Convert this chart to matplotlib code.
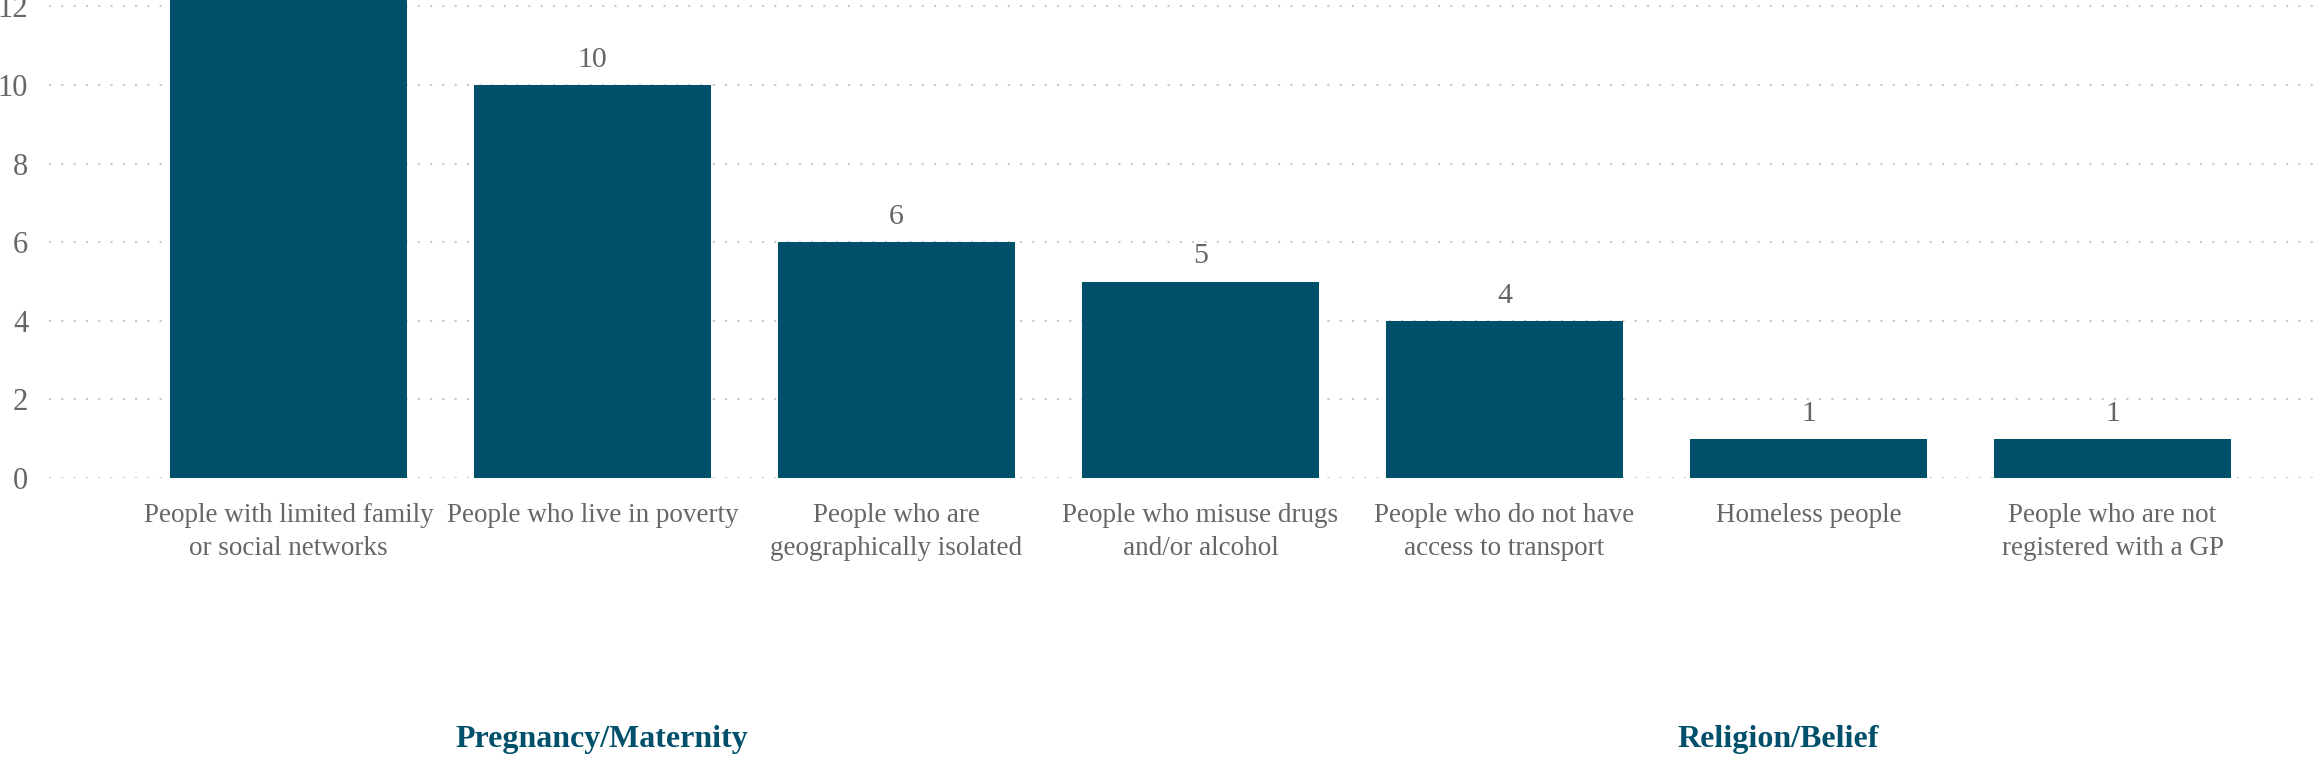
import matplotlib
matplotlib.use("Agg")
import matplotlib.pyplot as plt
import matplotlib.transforms as mtransforms

# data
categories = [
    "People with limited family\nor social networks",
    "People who live in poverty",
    "People who are\ngeographically isolated",
    "People who misuse drugs\nand/or alcohol",
    "People who do not have\naccess to transport",
    "Homeless people",
    "People who are not\nregistered with a GP",
]
values = [14, 10, 6, 5, 4, 1, 1]
yticks = [0, 2, 4, 6, 8, 10, 12]
group_labels = ["Pregnancy/Maternity", "Religion/Belief"]
group_pos = [1.03, 4.9]

bar_col = "#00506B"
txt_col = "#666666"
plt.rcParams['font.family'] = ['Liberation Serif', 'DejaVu Serif']

W, H = 2318, 773
fig = plt.figure(figsize=(W / 100, H / 100), dpi=100)
# axes: y=0 at 478px from top, 39.3 px per unit, x from 49px to right edge
y0 = 478
ppu = 39.3
ymax = 15
ax = fig.add_axes([49 / W, (H - y0) / H, (W - 49) / W, ymax * ppu / H])

x = list(range(len(categories)))
ax.bar(x, values, width=0.78, color=bar_col, zorder=3)
ax.set_xlim(-0.788, 6.676)
ax.set_ylim(0, ymax)

for xi, v in zip(x, values):
    ax.annotate(str(v), (xi, v), xytext=(0, 13), textcoords="offset points",
                ha="center", va="baseline", fontsize=21.5, color=txt_col)

ax.set_yticks(yticks)
ax.set_yticklabels([str(t) for t in yticks])
ax.set_xticks(x)
ax.set_xticklabels(categories, linespacing=1.4)
ax.tick_params(axis="x", length=0, pad=18, labelsize=19.5, labelcolor=txt_col)
ax.tick_params(axis="y", length=0, pad=15, labelsize=22, labelcolor=txt_col)
ax.grid(axis="y", color="#c8c8c8", linestyle=(0, (1, 4.9)), linewidth=1.5, zorder=0)
for s in ax.spines.values():
    s.set_visible(False)

trans = mtransforms.blended_transform_factory(ax.transData, fig.transFigure)
for lab, gx in zip(group_labels, group_pos):
    ax.text(gx, 33 / H, lab, transform=trans, ha="center", va="center",
            fontsize=23, fontweight="bold", color=bar_col)

fig.savefig("out.png", dpi=100)
